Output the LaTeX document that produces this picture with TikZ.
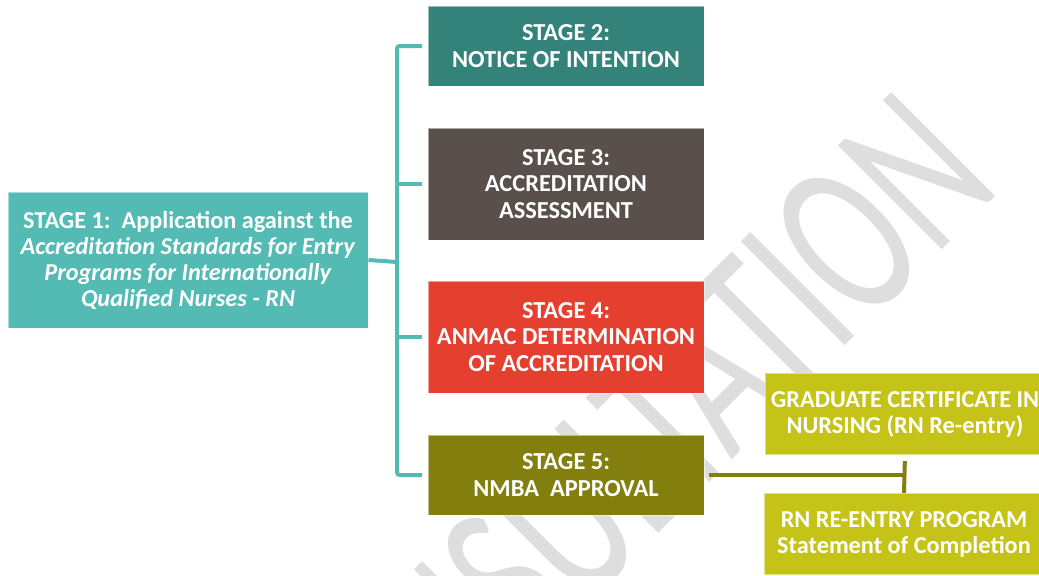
\documentclass[tikz,border=0pt]{standalone}
\usepackage{fontspec}
\setmainfont{Carlito}
\usetikzlibrary{calc}
\tikzset{every picture/.style={line width=0.75pt}}

\definecolor{stageone}{RGB}{84,187,180}
\definecolor{stagetwo}{RGB}{51,131,123}
\definecolor{stagethree}{RGB}{89,80,75}
\definecolor{stagefour}{RGB}{229,64,47}
\definecolor{stagefive}{RGB}{130,127,15}
\definecolor{reentry}{RGB}{197,195,24}
\definecolor{markgrey}{RGB}{222,222,222}

\tikzset{
  stagebox/.style={rectangle, draw=white, draw opacity=0.5, line width=0.75pt,
    text=white, align=center, inner sep=0pt,
    font=\bfseries\fontsize{18.3}{19.8}\selectfont},
  widebox/.style={stagebox, minimum width=207pt},
  sidebox/.style={stagebox, fill=reentry, minimum width=210pt, minimum height=61pt,
    font=\bfseries\fontsize{18.2}{19.5}\selectfont},
  busline/.style={draw=stageone, line width=3pt, rounded corners=2pt},
  subline/.style={draw=stagefive, line width=3pt},
  watermark/.style={text=markgrey, inner sep=0pt, font=\fontsize{113}{120}\selectfont}
}

\begin{document}
\begin{tikzpicture}[x=0.75pt,y=0.75pt,yscale=-1,xscale=1]
\useasboundingbox (0,0) rectangle (1039,575);
\clip (0,0) rectangle (1039,575);

% Watermark behind everything
\node[watermark, rotate=45] (wm) at (619,469) {\scalebox{1}[1.52]{CONSULTATION}};

% Stage 1
\node[stagebox, fill=stageone, minimum width=270pt, minimum height=102pt,
  font=\bfseries\fontsize{18.2}{19.5}\selectfont] (s1) at (188,260)
  {STAGE 1:\ \ Application against the\\
   \textit{Accreditation Standards for Entry}\\
   \textit{Programs for Internationally}\\
   \textit{Qualified Nurses - RN}};

% Stages 2 to 5
\node[widebox, fill=stagetwo, minimum height=60pt] (s2) at (566,46) {STAGE 2:\\NOTICE OF INTENTION};
\node[widebox, fill=stagethree, minimum height=84pt] (s3) at (566,184) {STAGE 3:\\ACCREDITATION\\ASSESSMENT};
\node[widebox, fill=stagefour, minimum height=84pt] (s4) at (566,337) {STAGE 4:\\ANMAC DETERMINATION\\OF ACCREDITATION};
\node[widebox, fill=stagefive, minimum height=60pt] (s5) at (566,475) {STAGE 5:\\NMBA\ \ APPROVAL};

% Re-entry outcomes
\node[sidebox] (grad) at (905,414) {GRADUATE CERTIFICATE IN\\NURSING (RN Re-entry)};
\node[sidebox] (rn) at (904,534) {RN RE-ENTRY PROGRAM\\Statement of Completion};

% Bus from stage 1
\coordinate (bus) at (397,262);
\draw[busline] (s1.east) -- (bus);
\draw[busline, shorten <=4pt, shorten >=4pt] (s2.west) -- (bus |- s2.west) -- (bus |- s5.west) -- (s5.west);
\draw[busline, shorten >=4pt] (bus |- s3.west) -- (s3.west);
\draw[busline, shorten >=4pt] (bus |- s4.west) -- (s4.west);

% Stage 5 to re-entry
\draw[subline, shorten <=3pt] (s5.east) -- (s5.east -| grad.south);
\draw[subline, shorten <=4.5pt] (grad.south) -- (rn.north);

\end{tikzpicture}
\end{document}
